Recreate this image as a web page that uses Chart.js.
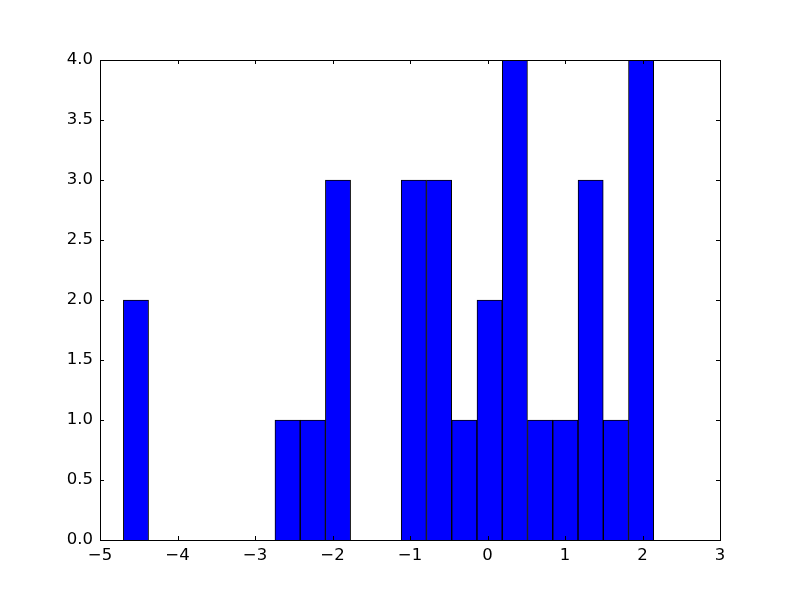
<!DOCTYPE html>
<html>
<head>
<meta charset="utf-8">
<script src="https://cdn.jsdelivr.net/npm/chart.js@4"></script>
<style>
  html, body { margin: 0; padding: 0; background: #fff; }
  #wrap { width: 800px; height: 600px; }
</style>
</head>
<body>
<div id="wrap"><canvas id="myChart" width="800" height="600"></canvas></div>
<script>
// bin centres (bin width ~0.326) and counts per bin
var binCenters = [-4.536, -4.210, -3.884, -3.558, -3.232, -2.906, -2.580, -2.254, -1.929, -1.603,
  -1.277, -0.951, -0.625, -0.299, 0.027, 0.353, 0.679, 1.005, 1.331, 1.657, 1.982];
var counts = [2, 0, 0, 0, 0, 0, 1, 1, 3, 0, 0, 3, 3, 1, 2, 4, 1, 1, 3, 1, 4];
var xTicks = [-5, -4, -3, -2, -1, 0, 1, 2, 3];
var yTicks = [0, 0.5, 1, 1.5, 2, 2.5, 3, 3.5, 4];

var points = [];
for (var i = 0; i < binCenters.length; i++) {
  points.push({ x: binCenters[i], y: counts[i] });
}

function fmtMinus(v) {
  return v < 0 ? "\u2212" + Math.abs(v) : "" + v;
}

// frame + inward ticks on all four sides, like matplotlib classic
var frame = {
  id: "frame",
  afterDraw: function (chart) {
    var c = chart.ctx, a = chart.chartArea;
    var xs = chart.scales.x, ys = chart.scales.y;
    c.save();
    c.strokeStyle = "#000";
    c.lineWidth = 1;
    c.strokeRect(a.left + 0.5, a.top + 0.5, a.right - a.left, a.bottom - a.top);
    c.beginPath();
    xTicks.forEach(function (t) {
      var px = Math.round(xs.getPixelForValue(t)) + 0.5;
      c.moveTo(px, a.bottom); c.lineTo(px, a.bottom - 4);
      c.moveTo(px, a.top); c.lineTo(px, a.top + 4);
    });
    yTicks.forEach(function (t) {
      var py = Math.round(ys.getPixelForValue(t)) + 0.5;
      c.moveTo(a.left, py); c.lineTo(a.left + 4, py);
      c.moveTo(a.right, py); c.lineTo(a.right - 4, py);
    });
    c.stroke();
    c.restore();
  }
};

var ctx = document.getElementById("myChart");

var myChart = new Chart(ctx, {
  type: "bar",
  data: {
    datasets: [
      {
        data: points,
        backgroundColor: "#0000ff",
        borderColor: "#000000",
        borderWidth: 1,
        borderSkipped: "start",
        barPercentage: 1,
        categoryPercentage: 1,
      },
    ],
  },
  options: {
    responsive: false,
    animation: false,
    devicePixelRatio: 1,
    layout: { padding: { left: 0, top: 60, right: 80, bottom: 0 } },
    plugins: { legend: { display: false }, tooltip: { enabled: false } },
    scales: {
      x: {
        type: "linear",
        min: -5,
        max: 3,
        offset: false,
        grid: { display: false, drawTicks: false },
        border: { display: false },
        afterBuildTicks: function (s) { s.ticks = xTicks.map(function (v) { return { value: v }; }); },
        afterFit: function (s) { s.height = 60; },
        ticks: {
          color: "#000",
          padding: 6,
          maxRotation: 0,
          font: { family: "DejaVu Sans", size: 16.5 },
          callback: function (v) { return fmtMinus(v); },
        },
      },
      y: {
        min: 0,
        max: 4,
        grid: { display: false, drawTicks: false },
        border: { display: false },
        afterBuildTicks: function (s) { s.ticks = yTicks.map(function (v) { return { value: v }; }); },
        afterFit: function (s) { s.width = 100; },
        ticks: {
          color: "#000",
          padding: 7,
          font: { family: "DejaVu Sans", size: 16.5 },
          callback: function (v) { return v.toFixed(1); },
        },
      },
    },
  },
  plugins: [frame],
});
</script>
</body>
</html>
